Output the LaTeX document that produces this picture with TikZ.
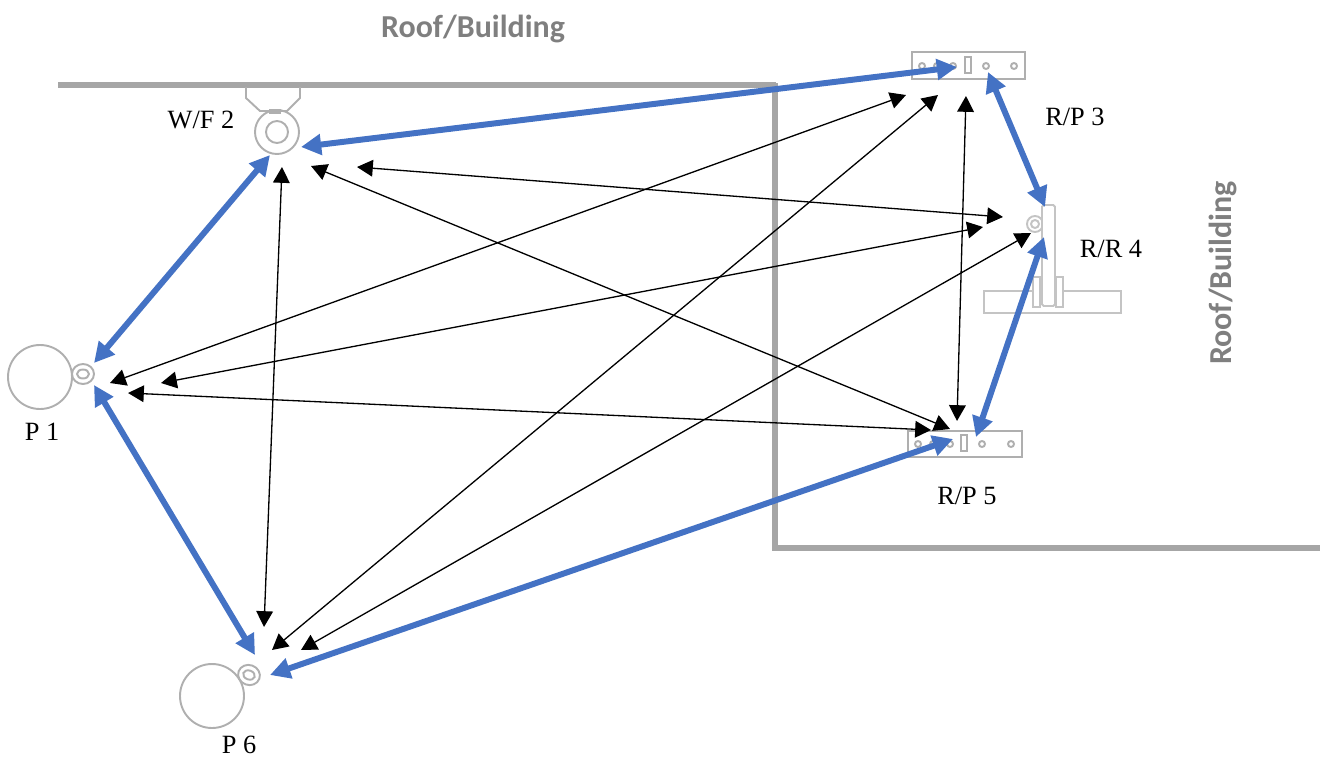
\documentclass[tikz,border=0pt]{standalone}
\usepackage{fontspec}
\setmainfont{Liberation Serif}
\newfontfamily\wallfont{Carlito}
\usetikzlibrary{arrows.meta}
\definecolor{linkblue}{HTML}{4472C4}
\definecolor{wallgray}{HTML}{A6A6A6}
\definecolor{partgray}{HTML}{AFAFAF}
\definecolor{robotgray}{HTML}{C4C4C4}
\definecolor{walltext}{HTML}{7F7F7F}
\tikzset{
  wall/.style = {draw = wallgray, line width = 3.1pt},
  part/.style = {draw = partgray, line width = 1.1pt},
  robot/.style = {draw = robotgray, line width = 1.1pt, fill = white},
  strong/.style = {draw = linkblue, line width = 3.4pt, >={Triangle[length = 11.5pt, width = 11.5pt]}, <->},
  thin link/.style = {draw = black, line width = 0.75pt, >={Triangle[length = 9pt, width = 9.5pt]}, <->},
  tag/.style = {font = \fontsize{15pt}{16pt}\selectfont, text = black, inner sep = 0pt},
  walltag/.style = {font = \wallfont\bfseries\fontsize{18.2pt}{20pt}\selectfont, text = walltext, inner sep = 0pt}
}
\begin{document}
\begin{tikzpicture}[x = 0.02cm, y = -0.02cm]
    \useasboundingbox (0,0) rectangle (1320,758);
    % walls
    \draw [wall] (58,85) -- (776,85);
    \draw [wall] (775,83) -- (775,548) -- (1320,548);
    \node [walltag] (roofTop) at (473,29) {Roof/Building};
    \node [walltag, rotate = 90] (roofSide) at (1223,273) {Roof/Building};
    % P 1
    \draw [part] (40,377) circle (32);
    \draw [part] (83,374) ellipse (11 and 10);
    \draw [part] (83,374) ellipse (6 and 4.5);
    % W/F 2
    \draw [part] (246,87) -- (246,98) -- (260,111) -- (287,111) -- (300,98) -- (300,87);
    \draw [part] (277,132) circle (22);
    \draw [part] (277,132) circle (11);
    \draw [part] (270,110) rectangle (280,113);
    % R/P 3
    \draw [part] (912,52) rectangle (1025,79);
    \draw [part] (965,57) rectangle (971,73);
    \foreach \holex in {922,937,953,986,1014}
      \draw [part] (\holex,66) circle (3);
    % R/R 4
    \draw [robot] (984,291) rectangle (1121,313);
    \draw [robot] (1033,277) rectangle (1040,307);
    \draw [robot] (1056,277) rectangle (1063,307);
    \draw [robot] (1035,224) circle (8);
    \draw [robot] (1035,224) circle (4);
    \draw [robot, rounded corners = 1pt] (1042,205) rectangle (1055,306);
    % R/P 5
    \draw [part] (908,431) rectangle (1022,457);
    \draw [part] (961,435) rectangle (967,451);
    \foreach \holex in {918,933,950,982,1011}
      \draw [part] (\holex,444) circle (3);
    % P 6
    \draw [part] (212,696) circle (32);
    \draw [part, rotate around = {-20:(249,675)}] (249,675) ellipse (11 and 10);
    \draw [part, rotate around = {-20:(249,675)}] (249,675) ellipse (6 and 4.5);
    % labels
    \node [tag] (labelWF) at (201,120) {W/F 2};
    \node [tag] (labelRPa) at (1075,117) {R/P 3};
    \node [tag] (labelRR) at (1111,249) {R/R 4};
    \node [tag] (labelP) at (42,432) {P 1};
    \node [tag] (labelRPb) at (967,496) {R/P 5};
    \node [tag] (labelPb) at (239,745) {P 6};
    % link ends
    \coordinate (pOneUp) at (94,363);
    \coordinate (pOneDown) at (94,385);
    \coordinate (pOneA) at (110,383);
    \coordinate (pOneB) at (161,383);
    \coordinate (pOneC) at (128,393);
    \coordinate (wfA) at (270,155);
    \coordinate (wfB) at (301,147);
    \coordinate (wfC) at (282,167);
    \coordinate (wfD) at (311,166);
    \coordinate (wfE) at (357,167);
    \coordinate (rpThreeA) at (957,67);
    \coordinate (rpThreeB) at (988,72);
    \coordinate (rpThreeC) at (906,95);
    \coordinate (rpThreeD) at (938,95);
    \coordinate (rpThreeE) at (966,96);
    \coordinate (rrA) at (1045,207);
    \coordinate (rrB) at (1044,237);
    \coordinate (rrC) at (1003,217);
    \coordinate (rrD) at (983,227);
    \coordinate (rrE) at (1031,233);
    \coordinate (rpFiveA) at (976,437);
    \coordinate (rpFiveB) at (953,439);
    \coordinate (rpFiveC) at (950,429);
    \coordinate (rpFiveD) at (931,430);
    \coordinate (rpFiveE) at (957,421);
    \coordinate (pSixA) at (255,655);
    \coordinate (pSixB) at (270,675);
    \coordinate (pSixC) at (264,627);
    \coordinate (pSixD) at (272,650);
    \coordinate (pSixE) at (301,650);
    % thin links
    \draw [thin link] (wfC) -- (pSixC);
    \draw [thin link] (wfD) -- (rpFiveC);
    \draw [thin link] (wfE) -- (rrC);
    \draw [thin link] (pOneA) -- (rpThreeC);
    \draw [thin link] (pOneB) -- (rrD);
    \draw [thin link] (pOneC) -- (rpFiveD);
    \draw [thin link] (pSixD) -- (rpThreeD);
    \draw [thin link] (pSixE) -- (rrE);
    \draw [thin link] (rpThreeE) -- (rpFiveE);
    % strong links
    \draw [strong] (pOneUp) -- (wfA);
    \draw [strong] (wfB) -- (rpThreeA);
    \draw [strong] (rpThreeB) -- (rrA);
    \draw [strong] (rrB) -- (rpFiveA);
    \draw [strong] (rpFiveB) -- (pSixB);
    \draw [strong] (pSixA) -- (pOneDown);
  \end{tikzpicture}
\end{document}
